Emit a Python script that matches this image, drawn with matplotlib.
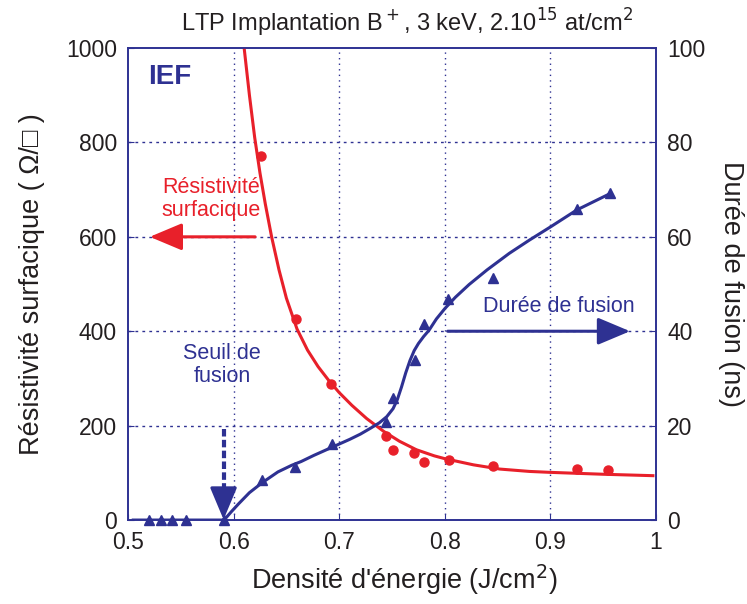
import matplotlib.pyplot as plt

plt.rcParams['font.family'] = ['Liberation Sans', 'DejaVu Sans']

RED = '#e8202a'
BLUE = '#2e3192'

# Résistivité surfacique (ohm/sq) - measured points
res_x = [0.626, 0.659, 0.692, 0.744, 0.751, 0.771, 0.780, 0.804, 0.846, 0.925, 0.954]
res_y = [772, 425, 289, 178, 149, 142, 123, 127, 115, 108, 105]

# Résistivité - fitted curve
res_fit_x = [0.610, 0.615, 0.620, 0.625, 0.630, 0.636, 0.643, 0.650, 0.660, 0.670,
             0.680, 0.690, 0.700, 0.712, 0.726, 0.742, 0.757, 0.773, 0.790, 0.800,
             0.827, 0.852, 0.880, 0.900, 0.950, 0.997]
res_fit_y = [1000, 900, 810, 735, 670, 600, 530, 470, 405, 360,
             325, 296, 270, 243, 215, 188, 167, 149, 136, 130,
             117, 108, 103, 101, 97, 94]

# Durée de fusion (ns) - measured points
dur_x = [0.520, 0.531, 0.542, 0.555, 0.591, 0.627, 0.658, 0.693, 0.744, 0.751,
         0.772, 0.780, 0.803, 0.846, 0.925, 0.956]
dur_y = [0, 0, 0, 0, 0, 8.5, 11.3, 16.1, 20.7, 25.9,
         34.0, 41.5, 46.9, 51.3, 65.8, 69.3]

# Durée de fusion - fitted curve
dur_fit_x = [0.505, 0.591, 0.598, 0.605, 0.615, 0.627, 0.642, 0.655, 0.664, 0.676,
             0.689, 0.700, 0.710, 0.720, 0.730, 0.738, 0.745, 0.751, 0.755, 0.759,
             0.763, 0.767, 0.771, 0.775, 0.780, 0.785, 0.792, 0.800, 0.810, 0.823,
             0.840, 0.861, 0.880, 0.900, 0.925, 0.955]
dur_fit_y = [0, 0, 1.8, 3.5, 5.8, 7.9, 10.2, 11.6, 12.4, 13.7,
             15.0, 16.1, 17.1, 18.2, 19.5, 20.6, 21.9, 23.6, 25.5, 28.2,
             31.2, 33.8, 35.9, 37.4, 38.9, 40.2, 42.6, 44.8, 47.2, 49.9,
             53.0, 56.5, 59.3, 62.1, 65.7, 69.0]

fig = plt.figure(figsize=(7.47, 6.04), dpi=100)
ax = fig.add_axes([0.1713, 0.139, 0.707, 0.7815])
ax2 = ax.twinx()

ax.set_xlim(0.5, 1.0)
ax.set_ylim(0, 1000)
ax2.set_ylim(0, 100)
ax.set_xticks([0.5, 0.6, 0.7, 0.8, 0.9, 1.0])
ax.set_xticklabels(['0.5', '0.6', '0.7', '0.8', '0.9', '1'])
ax.set_yticks([0, 200, 400, 600, 800, 1000])
ax2.set_yticks([0, 20, 40, 60, 80, 100])

# grid
for gx in [0.6, 0.7, 0.8, 0.9]:
    ax.axvline(gx, color=BLUE, lw=1, ls=(0, (1, 3)), zorder=0)
for gy in [200, 400, 600, 800]:
    ax.axhline(gy, color=BLUE, lw=1, ls=(0, (2, 3)), zorder=0)

for a in (ax, ax2):
    for s in a.spines.values():
        s.set_color(BLUE)
        s.set_linewidth(1.2)
    a.tick_params(direction='in', length=4, color=BLUE, labelsize=16.5,
                  labelcolor='#231f20', pad=8)

# resistivity
ax.plot(res_fit_x, res_fit_y, color=RED, lw=2.2, zorder=3)
ax.plot(res_x, res_y, 'o', color=RED, ms=6.5, zorder=4)

# fusion duration
ax2.plot(dur_fit_x, dur_fit_y, color=BLUE, lw=2.2, zorder=3)
ax2.plot(dur_x, dur_y, '^', color=BLUE, ms=7, zorder=4, clip_on=False)

head = dict(arrowstyle='-|>,head_length=1.0,head_width=0.42', mutation_scale=20, lw=2.2)

# annotations
ax.text(0.519, 939, 'IEF', color=BLUE, fontsize=20, fontweight='bold',
        ha='left', va='center')
ax.text(0.579, 680, 'Résistivité\nsurfacique', color=RED, fontsize=15.5,
        ha='center', va='center', linespacing=1.15)
ax.annotate('', xy=(0.518, 600), xytext=(0.623, 600),
            arrowprops=dict(color=RED, **head))
ax2.text(0.589, 32.8, 'Seuil de\nfusion', color=BLUE, fontsize=15.5,
         ha='center', va='center', linespacing=1.15)
# dashed shaft + solid head for the threshold arrow
ax2.plot([0.5905, 0.5905], [19.2, 4.0], color=BLUE, lw=3, ls=(0, (1.8, 0.8)), zorder=3)
ax2.annotate('', xy=(0.5905, 0.1), xytext=(0.5905, 4.5),
             arrowprops=dict(color=BLUE, shrinkA=0, shrinkB=0, **head))
ax2.text(0.908, 45.2, 'Durée de fusion', color=BLUE, fontsize=15.5,
         ha='center', va='center')
ax2.annotate('', xy=(0.978, 40), xytext=(0.8, 40),
             arrowprops=dict(color=BLUE, **head))

ax.set_title('LTP Implantation B$^+$, 3 keV, 2.10$^{15}$ at/cm$^2$',
             fontsize=17, color='#231f20', pad=12, x=0.528)
ax.set_xlabel("Densité d'énergie (J/cm$^2$)", fontsize=19.5, color='#231f20',
              labelpad=6, x=0.523)
ax.set_ylabel('Résistivité surfacique ( Ω/□ )', fontsize=19.5, color='#231f20', labelpad=15)
ax2.set_ylabel('Durée de fusion (ns)', fontsize=19.5, color='#231f20',
               rotation=270, labelpad=28)

fig.savefig('out.png', dpi=100)
